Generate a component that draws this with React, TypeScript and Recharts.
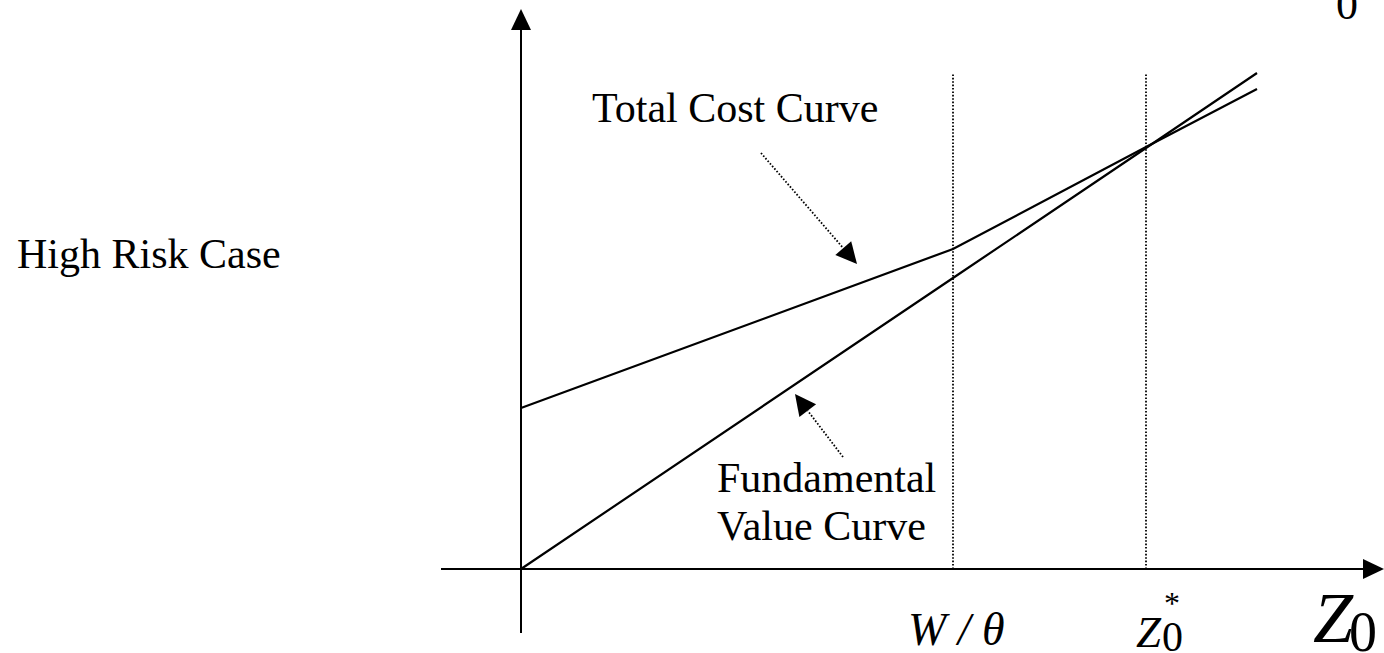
import React from "react";
import { LineChart, Line, XAxis, YAxis, ReferenceLine, Customized } from "recharts";

// x and y in the same arbitrary units (origin where the axes cross)
const xPoints = [0, 4.32, 6.25, 7.36];
const totalCost = [1.61, 3.2, 4.22, 4.8];
const fundamentalValue = [0, 2.91, 4.21, 4.96];

const markers = [
  { key: "w", x: 4.32 },
  { key: "z", x: 6.25 },
];
const markerTop = 4.96;

const chartData = xPoints.map((x, i) => ({ x, tc: totalCost[i], fv: fundamentalValue[i] }));

const SERIF = '"Liberation Serif", "Times New Roman", serif';

function headPoints(x1: number, y1: number, x2: number, y2: number, len: number, half: number) {
  const dx = x2 - x1;
  const dy = y2 - y1;
  const d = Math.sqrt(dx * dx + dy * dy) || 1;
  const ux = dx / d;
  const uy = dy / d;
  const bx = x2 - ux * len;
  const by = y2 - uy * len;
  return {
    bx,
    by,
    pts: `${x2},${y2} ${bx - uy * half},${by + ux * half} ${bx + uy * half},${by - ux * half}`,
  };
}

const AxisArrow = (props: any) => {
  const { x1, y1, x2, y2 } = props;
  const h = headPoints(x1, y1, x2, y2, 21, 10);
  return (
    <g>
      <line x1={x1} y1={y1} x2={h.bx} y2={h.by} stroke="#000" strokeWidth={2} />
      <polygon points={h.pts} fill="#000" />
    </g>
  );
};

const PointerArrow = (props: any) => {
  const { x1, y1, x2, y2 } = props;
  const h = headPoints(x1, y1, x2, y2, 21, 10.5);
  return (
    <g>
      <line x1={x1} y1={y1} x2={h.bx} y2={h.by} stroke="#000" strokeWidth={1.8} strokeDasharray="1.6 1.8" />
      <polygon points={h.pts} fill="#000" />
    </g>
  );
};

const Texts = () => (
  <g fontFamily={SERIF} fill="#000">
    <text x={592} y={122} fontSize={42}>Total Cost Curve</text>
    <text x={17} y={268} fontSize={42}>High Risk Case</text>
    <text x={717} y={492} fontSize={42}>Fundamental</text>
    <text x={717} y={540} fontSize={42}>Value Curve</text>
    <text x={908} y={645} fontSize={46} fontStyle="italic">W / θ</text>
    <text x={1136} y={647} fontSize={45} fontStyle="italic">Z</text>
    <text x={1164} y={614} fontSize={32}>*</text>
    <text x={1162} y={651} fontSize={42}>0</text>
    <text x={1313} y={642} fontSize={72} fontStyle="italic">Z</text>
    <text x={1349} y={651} fontSize={56}>0</text>
    <text x={1336} y={19} fontSize={44}>0</text>
  </g>
);

export default function App() {
  return (
    <div style={{ position: "absolute", left: 0, top: 0, background: "#fff" }}>
      <LineChart
        width={1384}
        height={653}
        data={chartData}
        margin={{ top: 0, right: 0, bottom: 20, left: 441 }}
      >
        <XAxis type="number" dataKey="x" domain={[-0.8, 8.63]} hide allowDataOverflow />
        <YAxis type="number" domain={[-0.64, 5.69]} hide allowDataOverflow />
        {markers.map((m) => (
          <ReferenceLine
            key={m.key}
            segment={[
              { x: m.x, y: 0 },
              { x: m.x, y: markerTop },
            ]}
            stroke="#000"
            strokeWidth={1.8}
            strokeDasharray="1.6 1.8"
          />
        ))}
        <ReferenceLine
          segment={[
            { x: -0.8, y: 0 },
            { x: 8.63, y: 0 },
          ]}
          shape={AxisArrow}
        />
        <ReferenceLine
          segment={[
            { x: 0, y: -0.64 },
            { x: 0, y: 5.6 },
          ]}
          shape={AxisArrow}
        />
        <Line
          dataKey="tc"
          type="linear"
          stroke="#000"
          strokeWidth={2.2}
          dot={false}
          isAnimationActive={false}
        />
        <Line
          dataKey="fv"
          type="linear"
          stroke="#000"
          strokeWidth={2.2}
          dot={false}
          isAnimationActive={false}
        />
        <ReferenceLine
          segment={[
            { x: 2.4, y: 4.16 },
            { x: 3.36, y: 3.05 },
          ]}
          shape={PointerArrow}
        />
        <ReferenceLine
          segment={[
            { x: 3.22, y: 1.12 },
            { x: 2.74, y: 1.75 },
          ]}
          shape={PointerArrow}
        />
        <Customized component={Texts} />
      </LineChart>
    </div>
  );
}
